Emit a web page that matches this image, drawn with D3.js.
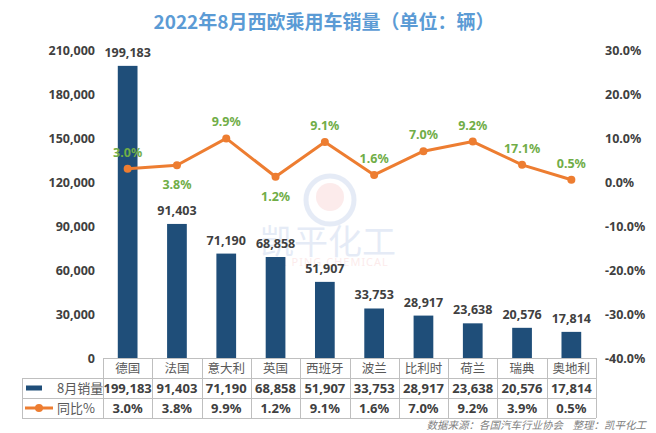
<!DOCTYPE html>
<html><head><meta charset="utf-8">
<script src="https://cdn.jsdelivr.net/npm/d3@7/dist/d3.min.js"></script>
<style>
html,body{margin:0;padding:0;background:#fff;}
svg{display:block;font-family:"Noto Sans","Noto Sans CJK SC",sans-serif;}
</style></head>
<body>
<svg id="c" width="656" height="433"></svg>
<script>
const categories = ["德国","法国","意大利","英国","西班牙","波兰","比利时","荷兰","瑞典","奥地利"];
const sales = [199183, 91403, 71190, 68858, 51907, 33753, 28917, 23638, 20576, 17814];
const yoy = [3.0, 3.8, 9.9, 1.2, 9.1, 1.6, 7.0, 9.2, 3.9, 0.5];
const yoyLabels = ["3.0%","3.8%","9.9%","1.2%","9.1%","1.6%","7.0%","9.2%","17.1%","0.5%"];
const leftTicks = [0, 30000, 60000, 90000, 120000, 150000, 180000, 210000];
const rightTicks = [-40, -30, -20, -10, 0, 10, 20, 30];
const seriesNames = ["8月销量", "同比%"];
const title = "2022年8月西欧乘用车销量（单位：辆）";
const footer = "数据来源：各国汽车行业协会    整理：凯平化工";
const belowLabelCats = ["法国","英国"];

const svg = d3.select("#c");
const plotL = 103, plotR = 596, plotT = 50, plotB = 358;
const x = d3.scaleBand().domain(categories).range([plotL, plotR]).padding(0);
const yL = d3.scaleLinear().domain([0, 210000]).range([plotB, plotT]);
const yR = d3.scaleLinear().domain([-40, 30]).range([plotB, plotT]);

const barColor = "#1F4E79", lineColor = "#ED7D31", green = "#70AD47", dark = "#404040", grid = "#BFBFBF";

// title
svg.append("text").attr("x", 324).attr("y", 29).attr("text-anchor", "middle")
  .attr("font-family", "'Noto Sans CJK SC',sans-serif")
  .attr("font-size", 19).attr("font-weight", "bold").attr("fill", "#5B9BD5").text(title);

// watermark
const wm = svg.append("g").attr("opacity", 0.22);
wm.append("circle").attr("cx", 330).attr("cy", 200).attr("r", 24).attr("fill", "none").attr("stroke", "#8EA9DB").attr("stroke-width", 5);
wm.append("circle").attr("cx", 330).attr("cy", 197).attr("r", 14).attr("fill", "#F4A7A7");
wm.append("text").attr("x", 328).attr("y", 254).attr("text-anchor", "middle")
  .attr("font-family", "'Noto Sans CJK SC',sans-serif").attr("font-size", 34).attr("fill", "#8EA9DB").text("凯平化工");
wm.append("text").attr("x", 328).attr("y", 266).attr("text-anchor", "middle")
  .attr("font-size", 11).attr("fill", "#F4A7A7").attr("letter-spacing", 1).text("KAI PING CHEMICAL");

// axes
const axL = svg.append("g").attr("transform", `translate(${plotL - 8},0)`)
  .call(d3.axisLeft(yL).tickValues(leftTicks).tickSize(0).tickPadding(0).tickFormat(d3.format(",")));
const axR = svg.append("g").attr("transform", `translate(${plotR + 9},0)`)
  .call(d3.axisRight(yR).tickValues(rightTicks).tickSize(0).tickPadding(0).tickFormat(d => d.toFixed(1) + "%"));
[axL, axR].forEach(a => {
  a.select(".domain").remove();
  a.selectAll("text").attr("font-size", 12.5).attr("font-weight", "bold").attr("fill", dark)
    .attr("font-family", "'Noto Sans',sans-serif");
});

// bars
const bw = x.bandwidth() * 0.4;
svg.append("g").selectAll("rect").data(categories).join("rect")
  .attr("x", (d) => x(d) + (x.bandwidth() - bw) / 2)
  .attr("y", (d, i) => yL(sales[i]))
  .attr("width", bw)
  .attr("height", (d, i) => plotB - yL(sales[i]))
  .attr("fill", barColor);

svg.append("g").selectAll("text").data(categories).join("text")
  .attr("x", d => x(d) + x.bandwidth() / 2)
  .attr("y", (d, i) => yL(sales[i]) - 9)
  .attr("text-anchor", "middle").attr("font-size", 12.5).attr("font-weight", "bold").attr("fill", dark)
  .text((d, i) => d3.format(",")(sales[i]));

// line
const line = d3.line().x((d, i) => x(categories[i]) + x.bandwidth() / 2).y(d => yR(d));
svg.append("path").datum(yoy).attr("d", line).attr("fill", "none")
  .attr("stroke", lineColor).attr("stroke-width", 3).attr("stroke-linejoin", "round");
svg.append("g").selectAll("circle").data(yoy).join("circle")
  .attr("cx", (d, i) => x(categories[i]) + x.bandwidth() / 2)
  .attr("cy", d => yR(d)).attr("r", 4).attr("fill", lineColor);
svg.append("g").selectAll("text").data(yoy).join("text")
  .attr("x", (d, i) => x(categories[i]) + x.bandwidth() / 2)
  .attr("y", (d, i) => yR(d) + (belowLabelCats.includes(categories[i]) ? 24 : -12))
  .attr("text-anchor", "middle").attr("font-size", 12.5).attr("font-weight", "bold").attr("fill", green)
  .text((d, i) => yoyLabels[i]);

// data table
const tL = 22, r0 = 358, r1 = 378, r2 = 398, r3 = 418;
const tbl = svg.append("g").attr("stroke", grid).attr("stroke-width", 1).attr("shape-rendering", "crispEdges");
tbl.append("line").attr("x1", plotL).attr("x2", plotR).attr("y1", r0 + 0.5).attr("y2", r0 + 0.5);
[r1, r2, r3].forEach(r => tbl.append("line").attr("x1", tL).attr("x2", plotR).attr("y1", r + 0.5).attr("y2", r + 0.5));
tbl.append("line").attr("x1", tL + 0.5).attr("x2", tL + 0.5).attr("y1", r1).attr("y2", r3);
categories.concat(["__end"]).forEach((c, i) => {
  const xx = i < categories.length ? x(c) : plotR;
  tbl.append("line").attr("x1", Math.round(xx) + 0.5).attr("x2", Math.round(xx) + 0.5).attr("y1", r0).attr("y2", r3);
});

svg.append("g").selectAll("text").data(categories).join("text")
  .attr("x", d => x(d) + x.bandwidth() / 2).attr("y", r0 + 15)
  .attr("text-anchor", "middle").attr("font-family", "'Noto Sans CJK SC',sans-serif")
  .attr("font-size", 12.5).attr("fill", "#595959").text(d => d);
svg.append("g").selectAll("text").data(categories).join("text")
  .attr("x", d => x(d) + x.bandwidth() / 2).attr("y", r1 + 15)
  .attr("text-anchor", "middle").attr("font-size", 13).attr("font-weight", "bold").attr("fill", dark)
  .text((d, i) => d3.format(",")(sales[i]));
svg.append("g").selectAll("text").data(categories).join("text")
  .attr("x", d => x(d) + x.bandwidth() / 2).attr("y", r2 + 15)
  .attr("text-anchor", "middle").attr("font-size", 13).attr("font-weight", "bold").attr("fill", dark)
  .text((d, i) => yoy[i].toFixed(1) + "%");

// legend keys in table
svg.append("rect").attr("x", 26).attr("y", r1 + 7.5).attr("width", 16).attr("height", 5).attr("fill", barColor);
svg.append("line").attr("x1", 25).attr("x2", 53).attr("y1", r2 + 10).attr("y2", r2 + 10).attr("stroke", lineColor).attr("stroke-width", 3);
svg.append("circle").attr("cx", 39).attr("cy", r2 + 10).attr("r", 4).attr("fill", lineColor);
svg.append("text").attr("x", 57).attr("y", r1 + 15).attr("font-family", "'Noto Sans CJK SC',sans-serif")
  .attr("font-size", 13).attr("fill", "#595959").text(seriesNames[0]);
svg.append("text").attr("x", 57).attr("y", r2 + 15).attr("font-family", "'Noto Sans CJK SC',sans-serif")
  .attr("font-size", 13).attr("fill", "#595959").text(seriesNames[1]);

// footer
svg.append("text").attr("x", 646).attr("y", 429).attr("text-anchor", "end")
  .attr("font-family", "'Noto Sans CJK SC',sans-serif").attr("font-style", "italic")
  .attr("font-size", 10.5).attr("fill", "#7F7F7F").attr("xml:space", "preserve").text(footer);
</script>
</body></html>
